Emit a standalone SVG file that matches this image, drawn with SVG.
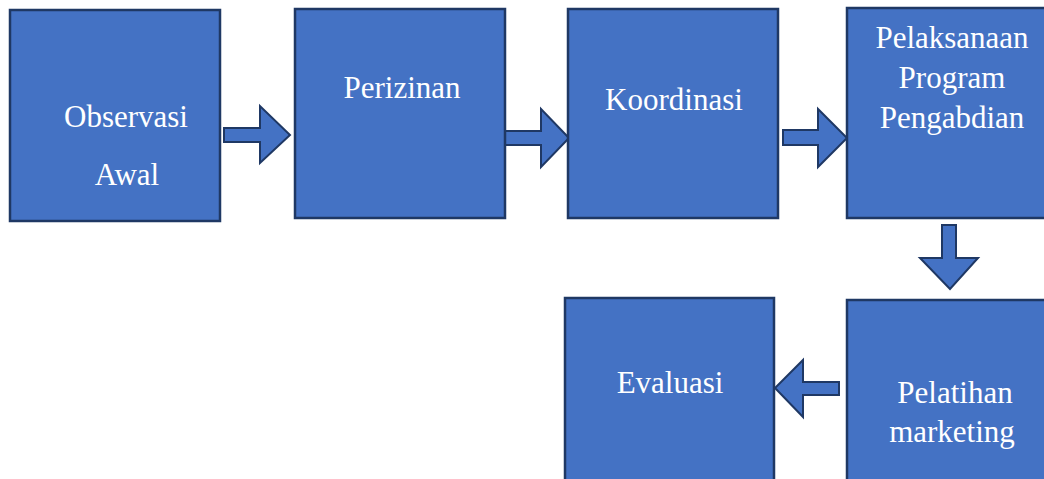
<svg xmlns="http://www.w3.org/2000/svg" width="1044" height="479" viewBox="0 0 1044 479">
<style>
.box{fill:#4472C4;stroke:#1F3864;stroke-width:2.5}
.arr{fill:#4472C4;stroke:#1F3864;stroke-width:2;stroke-linejoin:miter}
text{font-family:'Liberation Serif','Times New Roman',Tinos,'DejaVu Serif',serif;font-size:31px;fill:#FFFFFF;text-anchor:middle}
</style>
<rect x="0" y="0" width="1044" height="479" fill="#FFFFFF"/>
<g id="connectors">
<polygon class="arr" points="224,128 260,128 260,106 290,135 260,163 260,142 224,142"/>
<polygon class="arr" points="505,131 541,131 541,109 569,138 541,167 541,145 505,145"/>
<polygon class="arr" points="783,130 818,130 818,109 847,138 818,167 818,145 783,145"/>
<polygon class="arr" points="942,225 956,225 956,258 978,258 950,289 920,258 942,258"/>
<polygon class="arr" points="839,382 803,382 803,360 775,388 803,417 803,395 839,395"/>
</g>
<g id="observasi">
<rect class="box" x="10" y="10" width="210" height="211"/>
<text font-family="Liberation Serif, serif" x="126" y="127">Observasi</text>
<text font-family="Liberation Serif, serif" x="127" y="185">Awal</text>
</g>
<g id="perizinan">
<rect class="box" x="295" y="9" width="210" height="209"/>
<text font-family="Liberation Serif, serif" x="402" y="98">Perizinan</text>
</g>
<g id="koordinasi">
<rect class="box" x="568" y="9" width="210" height="209"/>
<text font-family="Liberation Serif, serif" x="674" y="110">Koordinasi</text>
</g>
<g id="pelaksanaan">
<rect class="box" x="847" y="8" width="210" height="210"/>
<text font-family="Liberation Serif, serif" x="952" y="48">Pelaksanaan</text>
<text font-family="Liberation Serif, serif" x="952" y="88">Program</text>
<text font-family="Liberation Serif, serif" x="952" y="128">Pengabdian</text>
</g>
<g id="evaluasi">
<rect class="box" x="565" y="298" width="209" height="200"/>
<text font-family="Liberation Serif, serif" x="670" y="393">Evaluasi</text>
</g>
<g id="pelatihan">
<rect class="box" x="847" y="300" width="210" height="200"/>
<text font-family="Liberation Serif, serif" x="955" y="403">Pelatihan</text>
<text font-family="Liberation Serif, serif" x="952" y="442">marketing</text>
</g>
</svg>
